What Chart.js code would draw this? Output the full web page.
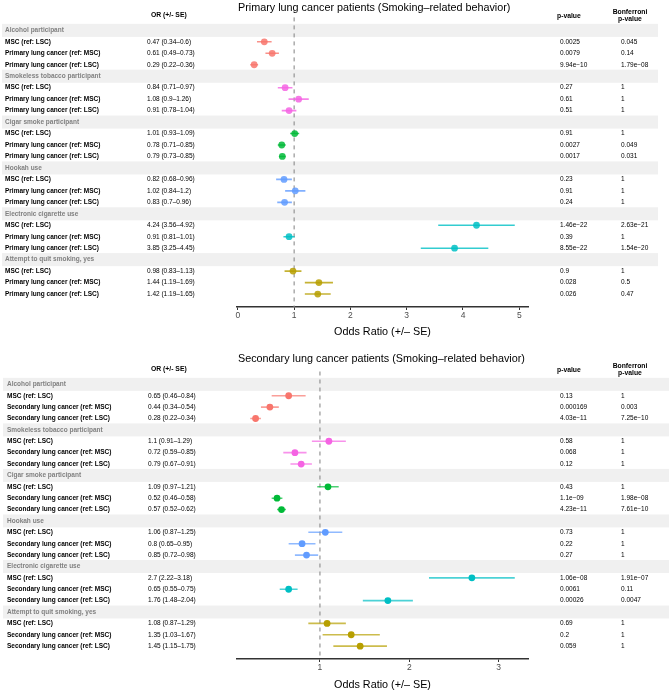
<!DOCTYPE html>
<html>
<head>
<meta charset="utf-8">
<script src="https://cdn.jsdelivr.net/npm/chart.js@4.4.0/dist/chart.umd.min.js"></script>
<style>
  body { margin: 0; background: #fff; }
  canvas { display: block; }
</style>
</head>
<body>
<canvas id="primaryChart" width="669" height="340"></canvas>
<canvas id="secondaryChart" width="669" height="350"></canvas>
<script>
// categories
const GROUPS = ['Alcohol participant', 'Smokeless tobacco participant', 'Cigar smoke participant',
                'Hookah use', 'Electronic cigarette use', 'Attempt to quit smoking, yes'];
const GROUP_COLORS = ['#F8766D', '#F564E3', '#00BA38', '#619CFF', '#00BFC4', '#B79F00'];

const PRIMARY_LABELS = ['MSC (ref: LSC)', 'Primary lung cancer (ref: MSC)', 'Primary lung cancer (ref: LSC)'];
const SECONDARY_LABELS = ['MSC (ref: LSC)', 'Secondary lung cancer (ref: MSC)', 'Secondary lung cancer (ref: LSC)'];

// primary lung cancer, 3 rows per group
const PRIMARY_OR = [0.47, 0.61, 0.29, 0.84, 1.08, 0.91, 1.01, 0.78, 0.79, 0.82, 1.02, 0.83, 4.24, 0.91, 3.85, 0.98, 1.44, 1.42];
const PRIMARY_LO = [0.34, 0.49, 0.22, 0.71, 0.9, 0.78, 0.93, 0.71, 0.73, 0.68, 0.84, 0.7, 3.56, 0.81, 3.25, 0.83, 1.19, 1.19];
const PRIMARY_HI = [0.6, 0.73, 0.36, 0.97, 1.26, 1.04, 1.09, 0.85, 0.85, 0.96, 1.2, 0.96, 4.92, 1.01, 4.45, 1.13, 1.69, 1.65];
const PRIMARY_P = ['0.0025', '0.0079', '9.94e\u221210', '0.27', '0.61', '0.51', '0.91', '0.0027', '0.0017',
                   '0.23', '0.91', '0.24', '1.46e\u221222', '0.39', '8.55e\u221222', '0.9', '0.028', '0.026'];
const PRIMARY_BONF = ['0.045', '0.14', '1.79e\u221208', '1', '1', '1', '1', '0.049', '0.031',
                      '1', '1', '1', '2.63e\u221221', '1', '1.54e\u221220', '1', '0.5', '0.47'];

// secondary lung cancer
const SECONDARY_OR = [0.65, 0.44, 0.28, 1.1, 0.72, 0.79, 1.09, 0.52, 0.57, 1.06, 0.8, 0.85, 2.7, 0.65, 1.76, 1.08, 1.35, 1.45];
const SECONDARY_LO = [0.46, 0.34, 0.22, 0.91, 0.59, 0.67, 0.97, 0.46, 0.52, 0.87, 0.65, 0.72, 2.22, 0.55, 1.48, 0.87, 1.03, 1.15];
const SECONDARY_HI = [0.84, 0.54, 0.34, 1.29, 0.85, 0.91, 1.21, 0.58, 0.62, 1.25, 0.95, 0.98, 3.18, 0.75, 2.04, 1.29, 1.67, 1.75];
const SECONDARY_P = ['0.13', '0.000169', '4.03e\u221211', '0.58', '0.068', '0.12', '0.43', '1.1e\u221209', '4.23e\u221211',
                     '0.73', '0.22', '0.27', '1.06e\u221208', '0.0061', '0.00026', '0.69', '0.2', '0.059'];
const SECONDARY_BONF = ['1', '0.003', '7.25e\u221210', '1', '1', '1', '1', '1.98e\u221208', '7.61e\u221210',
                        '1', '1', '1', '1.91e\u221207', '0.11', '0.0047', '1', '1', '1'];

const PRIMARY_TICKS = [0, 1, 2, 3, 4, 5];
const SECONDARY_TICKS = [1, 2, 3];

const FONT = '"Liberation Sans", Arial, Helvetica, sans-serif';

function rgba(hex, a) {
  const n = parseInt(hex.slice(1), 16);
  return `rgba(${n >> 16}, ${(n >> 8) & 255}, ${n & 255}, ${a})`;
}

function rowOf(i) { return Math.floor(i / 3) * 4 + 1 + (i % 3); }

function buildDatasets(cfg) {
  const sets = [];
  cfg.or.forEach((v, i) => {
    const c = GROUP_COLORS[Math.floor(i / 3)];
    // error bar
    sets.push({
      data: [{x: cfg.lo[i], y: rowOf(i)}, {x: cfg.hi[i], y: rowOf(i)}],
      showLine: true, borderColor: rgba(c, cfg.lineAlpha), borderWidth: 1.6,
      pointRadius: 0, pointHoverRadius: 0
    });
  });
  GROUPS.forEach((g, gi) => {
    const pts = [];
    for (let k = 0; k < 3; k++) {
      const i = gi * 3 + k;
      pts.push({x: cfg.or[i], y: rowOf(i)});
    }
    sets.push({
      data: pts, showLine: false, pointRadius: 3.4, borderWidth: 0,
      backgroundColor: rgba(GROUP_COLORS[gi], cfg.pointAlpha)
    });
  });
  return sets;
}

const forestDecor = {
  id: 'forestDecor',
  beforeDraw(chart, args, o) {
    const ctx = chart.ctx, y = chart.scales.y;
    ctx.save();
    ctx.fillStyle = '#f0f0f0';
    GROUPS.forEach((g, gi) => {
      const t = y.getPixelForValue(gi * 4 - 0.57), b = y.getPixelForValue(gi * 4 + 0.57);
      ctx.fillRect(o.bandLeft, t, o.bandRight - o.bandLeft, b - t);
    });
    ctx.restore();
  },
  beforeDatasetsDraw(chart) {
    const ctx = chart.ctx, a = chart.chartArea;
    const x1 = chart.scales.x.getPixelForValue(1);
    ctx.save();
    ctx.strokeStyle = '#8c8c8c';
    ctx.lineWidth = 1.1;
    ctx.setLineDash([4, 4]);
    ctx.beginPath();
    ctx.moveTo(x1, a.top);
    ctx.lineTo(x1, a.bottom);
    ctx.stroke();
    ctx.restore();
  },
  afterDraw(chart, args, o) {
    const ctx = chart.ctx, y = chart.scales.y, a = chart.chartArea;
    ctx.save();
    ctx.textBaseline = 'middle';
    // title
    ctx.fillStyle = '#000';
    ctx.font = `10.8px ${FONT}`;
    ctx.textAlign = 'left';
    ctx.fillText(o.title, a.left + 1, o.titleY);
    // column headers
    ctx.font = `bold 6.8px ${FONT}`;
    ctx.fillText('OR (+/- SE)', 151, y.getPixelForValue(-1.3));
    ctx.fillText('p-value', 557, y.getPixelForValue(-1.25));
    ctx.textAlign = 'center';
    ctx.fillText('Bonferroni', 630, y.getPixelForValue(-1.57));
    ctx.fillText('p-value', 630, y.getPixelForValue(-0.96));
    ctx.textAlign = 'left';
    // group headers
    ctx.fillStyle = '#808080';
    ctx.font = `bold 6.5px ${FONT}`;
    GROUPS.forEach((g, gi) => ctx.fillText(g, o.labelX, y.getPixelForValue(gi * 4)));
    // rows
    ctx.fillStyle = '#000';
    o.or.forEach((v, i) => {
      const py = y.getPixelForValue(rowOf(i));
      ctx.font = `bold 6.5px ${FONT}`;
      ctx.fillText(o.labels[i % 3], o.labelX, py);
      ctx.font = `6.5px ${FONT}`;
      ctx.fillText(`${v} (${o.lo[i]}\u2013${o.hi[i]})`, o.orX, py);
      ctx.fillText(o.p[i], 560, py);
      ctx.fillText(o.bonf[i], 621, py);
    });
    ctx.restore();
  }
};

function makeForest(id, cfg) {
  const minLo = Math.min(...cfg.lo), maxHi = Math.max(...cfg.hi);
  const pad = (maxHi - minLo) * 0.05;
  return new Chart(document.getElementById(id), {
    type: 'scatter',
    data: { datasets: buildDatasets(cfg) },
    options: {
      responsive: false,
      animation: false,
      events: [],
      layout: { padding: { left: 237, right: 141, top: cfg.top, bottom: 0 } },
      scales: {
        x: {
          type: 'linear', min: minLo - pad, max: maxHi + pad,
          afterBuildTicks: s => { s.ticks = cfg.ticks.map(v => ({value: v})); },
          afterFit: s => { s.height = cfg.axisHeight; },
          border: { display: true, color: '#333', width: 1.5 },
          grid: { drawOnChartArea: false, drawTicks: true, tickLength: 3, color: '#333', tickWidth: 1 },
          ticks: { font: { size: 8.5, family: FONT }, color: '#4d4d4d', padding: 1, maxRotation: 0 },
          title: { display: true, text: 'Odds Ratio (+/\u2013 SE)', color: '#000',
                   font: { size: 10.8, family: FONT }, padding: { top: 0, bottom: cfg.titlePad } }
        },
        y: { type: 'linear', display: false, reverse: true, min: -1.13, max: 24.13 }
      },
      plugins: {
        legend: { display: false },
        tooltip: { enabled: false },
        forestDecor: {
          title: cfg.title, titleY: cfg.titleY, bandLeft: cfg.bandLeft, bandRight: cfg.bandRight,
          labelX: cfg.labelX, orX: cfg.orX, labels: cfg.labels,
          or: cfg.or, lo: cfg.lo, hi: cfg.hi, p: cfg.p, bonf: cfg.bonf
        }
      }
    },
    plugins: [forestDecor]
  });
}

makeForest('primaryChart', {
  title: 'Primary lung cancer patients (Smoking\u2013related behavior)',
  labels: PRIMARY_LABELS, or: PRIMARY_OR, lo: PRIMARY_LO, hi: PRIMARY_HI,
  p: PRIMARY_P, bonf: PRIMARY_BONF, ticks: PRIMARY_TICKS,
  top: 17.4, axisHeight: 33, titlePad: 1.5, titleY: 8,
  bandLeft: 2, bandRight: 658, labelX: 5, orX: 147,
  lineAlpha: 0.8, pointAlpha: 0.85
});

makeForest('secondaryChart', {
  title: 'Secondary lung cancer patients (Smoking\u2013related behavior)',
  labels: SECONDARY_LABELS, or: SECONDARY_OR, lo: SECONDARY_LO, hi: SECONDARY_HI,
  p: SECONDARY_P, bonf: SECONDARY_BONF, ticks: SECONDARY_TICKS,
  top: 31.5, axisHeight: 31, titlePad: -1.5, titleY: 19,
  bandLeft: 3, bandRight: 669, labelX: 7, orX: 148,
  lineAlpha: 0.7, pointAlpha: 1
});
</script>
</body>
</html>
